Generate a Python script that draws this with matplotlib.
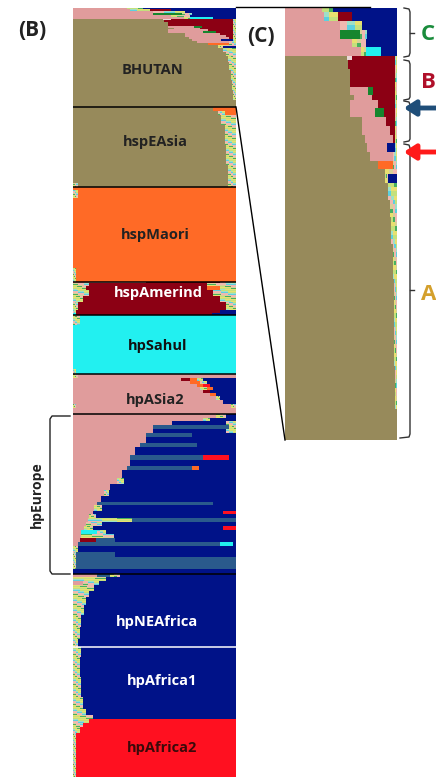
import numpy as np
import matplotlib
matplotlib.use("Agg")
import matplotlib.pyplot as plt

# cluster colours (STRUCTURE-like plot)
colors = {
    'K': '#978a5b',  # khaki  (hspEAsia / Bhutan)
    'O': '#ff6a26',  # orange (hspMaori)
    'D': '#8c0014',  # dark red (hspAmerind)
    'C': '#22f0f0',  # cyan   (hpSahul)
    'P': '#e09c9c',  # pink   (hpAsia2)
    'B': '#001288',  # navy   (hpAfrica1)
    'S': '#2a5a8c',  # steel blue (hpEurope)
    'R': '#ff1020',  # red    (hpAfrica2)
    'G': '#16862e',  # green
    'W': '#ead8d8',  # pale pink
}
noise_colors = ['#c4e07c', '#e8e070', '#f0b8b0', '#9ee0c8', '#c4e07c',
                '#d8d098', '#5cd0e0', '#e8e070', '#48b060', '#f0b8b0']

# rows: (number of individuals, "cluster fractions left->right"), n = mixed
bhutan_rows = [
    (1, "P.33 n.10 B.57"),
    (2, "P.35 n.12 D.13 B.40"),
    (2, "P.49 n.20 B.31"),
    (2, "P.49 G.18 n.06 B.27"),
    (2, "P.60 n.12 B.28"),
    (2, "P.68 n.04 C.14 B.14"),
    (1, "K.55 W.05 D.38 n.02"),
    (2, "K.56 D.42 n.02"),
    (2, "K.58 D.40 n.02"),
    (2, "K.58 D.40 n.02"),
    (2, "K.58 P.16 G.05 D.19 n.02"),
    (1, "K.62 P.16 D.20 n.02"),
    (2, "K.58 P.25 D.15 n.02"),
    (2, "K.58 P.22 G.08 D.10 n.02"),
    (2, "K.69 P.21 D.08 n.02"),
    (2, "K.69 P.25 D.04 n.02"),
    (2, "K.71 P.25 D.02 n.02"),
    (2, "K.73 P.18 B.07 n.02"),
    (2, "K.76 P.20 n.04"),
    (2, "K.83 O.13 n.04"),
    (1, "K.89 n.11"),
    (2, "K.89 n.03 B.08"),
    (4, "K.92 n.08"),
    (4, "K.94 n.06"),
    (6, "K.95 n.05"),
    (8, "K.96 n.04"),
    (10, "K.97 n.03"),
    (10, "K.975 n.025"),
    (10, "K.98 n.02"),
    (7, "K1.0"),
]
easia_rows = [
    (4, "K.86 O.14"),
    (4, "K.89 n.04 O.07"),
    (10, "K.91 n.09"),
    (20, "K.93 n.07"),
    (20, "K.94 n.06"),
    (18, "K.95 n.05"),
    (4, "n.03 K.92 n.05"),
]
maori_rows = [
    (3, "O1.0"),
    (8, "n.03 O.97"),
    (70, "O1.0"),
    (14, "n.02 O.98"),
]
amerind_rows = [
    (1, "P.45 D.45 n.10"),
    (3, "n.10 D.72 n.18"),
    (4, "n.08 D.74 O.08 n.10"),
    (6, "n.10 D.76 n.14"),
    (6, "n.06 D.84 n.10"),
    (8, "n.03 D.91 n.06"),
    (3, "n.02 D.88 B.10"),
    (2, "C.02 D.83 B.15"),
]
sahul_rows = [
    (10, "n.04 C.96"),
    (44, "C1.0"),
    (5, "n.02 C.98"),
]
asia2_rows = [
    (4, "n.03 P.97"),
    (3, "P.66 D.06 O.04 n.04 B.20"),
    (3, "P.72 O.06 n.04 B.18"),
    (3, "P.76 O.04 R.04 B.16"),
    (3, "P.78 n.04 O.04 B.14"),
    (3, "P.80 D.04 B.16"),
    (3, "P.84 O.04 B.12"),
    (4, "P.88 n.02 B.10"),
    (4, "P.92 B.08"),
    (4, "n.02 P.95 n.03"),
    (6, "P1.0"),
]
europe_rows = [
    (4, "P.88 n.06 B.06"),
    (3, "P.80 n.04 B.16"),
    (4, "P.61 B.33 n.06"),
    (4, "P.49 S.47 n.04"),
    (4, "P.49 B.45 n.06"),
    (4, "P.45 S.28 B.27"),
    (6, "P.45 B.55"),
    (4, "P.41 S.35 B.24"),
    (8, "P.38 B.62"),
    (5, "P.35 S.45 R.16 B.04"),
    (6, "P.35 B.65"),
    (4, "P.33 S.40 O.04 B.23"),
    (8, "P.30 B.70"),
    (6, "P.27 n.04 B.69"),
    (6, "P.23 B.77"),
    (6, "P.19 n.03 B.78"),
    (6, "P.17 B.83"),
    (3, "P.15 S.71 B.14"),
    (6, "P.13 n.05 B.82"),
    (3, "P.12 B.80 R.08"),
    (4, "P.10 n.04 B.86"),
    (4, "P.09 n.27 S.64"),
    (4, "P.08 n.10 B.82"),
    (4, "P.07 n.05 B.80 R.08"),
    (4, "P.05 C.10 n.05 B.80"),
    (4, "P.05 n.20 B.75"),
    (4, "P.04 D.10 S.12 B.74"),
    (4, "P.03 S.87 C.08 B.02"),
    (6, "n.03 B.97"),
    (5, "n.02 S.24 B.74"),
    (12, "n.02 S.98"),
    (5, "B1.0"),
]
neafrica_rows = [
    (3, "P.15 S.08 n.06 B.71"),
    (4, "n.20 B.80"),
    (4, "P.06 n.10 B.84"),
    (6, "n.13 B.87"),
    (6, "n.10 B.90"),
    (8, "n.08 B.92"),
    (10, "n.07 B.93"),
    (12, "n.05 B.95"),
    (12, "n.04 B.96"),
    (8, "n.03 B.97"),
]
africa1_rows = [
    (10, "n.05 B.95"),
    (20, "n.04 B.96"),
    (20, "n.05 B.95"),
    (12, "n.06 B.94"),
    (6, "n.08 B.92"),
    (4, "n.12 B.88"),
]
africa2_rows = [
    (4, "n.10 R.90"),
    (4, "n.06 R.94"),
    (6, "n.04 R.96"),
    (44, "n.02 R.98"),
]

pop_names = ["BHUTAN", "hspEAsia", "hspMaori", "hspAmerind", "hpSahul",
             "hpASia2", "hpEurope", "hpNEAfrica", "hpAfrica1", "hpAfrica2"]
pop_rows = [bhutan_rows, easia_rows, maori_rows, amerind_rows, sahul_rows,
            asia2_rows, europe_rows, neafrica_rows, africa1_rows, africa2_rows]
sub_labels = ["C", "B", "A"]


def build_bars(rows, start):
    ys, ws, ls, hs, cs = [], [], [], [], []
    y = start
    for count, spec in rows:
        left = 0.0
        for seg in spec.split():
            code, frac = seg[0], float(seg[1:])
            if code == 'n':
                for r in range(count):
                    for k in range(3):
                        ys.append(y + r); ws.append(frac / 3)
                        ls.append(left + k * frac / 3); hs.append(1)
                        cs.append(noise_colors[(3 * (y + r) + 4 * k) % len(noise_colors)])
            else:
                ys.append(y); ws.append(frac); ls.append(left)
                hs.append(count); cs.append(colors[code])
            left += frac
        y += count
    return ys, ws, ls, hs, cs, y


W, H = 436, 777
fig = plt.figure(figsize=(W / 100, H / 100), dpi=100)

# panel B
axB = fig.add_axes([73 / W, 0, 163 / W, 769 / H])
starts = []
y0 = 0
allb = [[], [], [], [], []]
for rows in pop_rows:
    starts.append(y0)
    ys, ws, ls, hs, cs, y0 = build_bars(rows, y0)
    for lst, v in zip(allb, (ys, ws, ls, hs, cs)):
        lst.extend(v)
starts.append(y0)
axB.barh(allb[0], allb[1], left=allb[2], height=allb[3], color=allb[4],
         align='edge', linewidth=0)
axB.set_xlim(0, 1)
axB.set_ylim(y0, 0)
axB.axis('off')
for i, b in enumerate(starts[1:-1]):
    if pop_names[i + 1] == "hpAfrica2":
        continue
    c = 'white' if pop_names[i + 1] == "hpAfrica1" else 'black'
    axB.axhline(b, color=c, lw=1.1)

# panel C : zoom of the Bhutan strains
axC = fig.add_axes([285 / W, (H - 440) / H, 112 / W, 432 / H])
ys, ws, ls, hs, cs, nC = build_bars(bhutan_rows, 0)
axC.barh(ys, ws, left=ls, height=hs, color=cs, align='edge', linewidth=0)
axC.set_xlim(0, 1)
axC.set_ylim(nC, 0)
axC.axis('off')

# overlay in pixel coordinates for text, brackets and arrows
ov = fig.add_axes([0, 0, 1, 1], zorder=5)
ov.set_xlim(0, W)
ov.set_ylim(H, 0)
ov.axis('off')

fnt = 'Open Sans'
label_xy = [(152, 70), (155, 142), (155, 235), (158, 293), (158, 346),
            (155, 400), None, (157, 622), (162, 681), (162, 748)]
label_col = ['#222222', '#222222', '#222222', 'white', '#111111',
             '#222222', None, 'white', 'white', '#3a0a0a']
for name, xy, c in zip(pop_names, label_xy, label_col):
    if xy is None:
        continue
    ov.text(xy[0], xy[1], name, ha='center', va='center', fontsize=10.5,
            fontweight='bold', color=c, family=fnt)

# hpEurope bracket
ov.plot([70, 52, 50, 50, 52, 70], [416, 416, 419, 571, 574, 574], color='#222', lw=1)
ov.text(37, 495, "hpEurope", rotation=90, ha='center', va='center',
        fontsize=10, fontweight='bold', color='#222222', family=fnt)

ov.text(32, 30, "(B)", ha='center', va='center', fontsize=15,
        fontweight='bold', color='#222222', family=fnt)
ov.text(261, 36, "(C)", ha='center', va='center', fontsize=15,
        fontweight='bold', color='#222222', family=fnt)

# zoom connector lines
ov.plot([236, 370], [7, 7], color='black', lw=1)
ov.plot([236, 285], [107, 440], color='black', lw=1)

# right brackets
br = '#333333'
ov.plot([404, 409, 410, 410, 409, 404], [8, 9, 12, 53, 56, 57], color=br, lw=1)
ov.plot([410, 414], [33, 33], color=br, lw=1)
ov.plot([404, 409, 410, 410, 409, 404], [60, 61, 64, 97, 99, 100], color=br, lw=1)
ov.plot([404, 409, 410, 410, 409, 404], [101, 102, 105, 139, 141, 142], color=br, lw=1)
ov.plot([404, 409, 410, 410, 409, 400], [144, 145, 148, 434, 437, 438], color=br, lw=1)
ov.plot([410, 414], [290, 290], color=br, lw=1)

sub_col = ['#1a8c3c', '#b0102a', '#d4a02c']
for lab, yy, c in zip(sub_labels, [35, 83, 295], sub_col):
    ov.text(421, yy, lab, ha='left', va='center', fontsize=16,
            fontweight='bold', color=c, family=fnt, clip_on=False)

ov.annotate("", xy=(401, 108), xytext=(440, 108),
            arrowprops=dict(arrowstyle='-|>,head_length=0.7,head_width=0.45',
                            color='#1f4e79', lw=3.5))
ov.annotate("", xy=(401, 152), xytext=(440, 152),
            arrowprops=dict(arrowstyle='-|>,head_length=0.7,head_width=0.45',
                            color='#ff1a1a', lw=3.5))

fig.savefig("out.png", dpi=100)
